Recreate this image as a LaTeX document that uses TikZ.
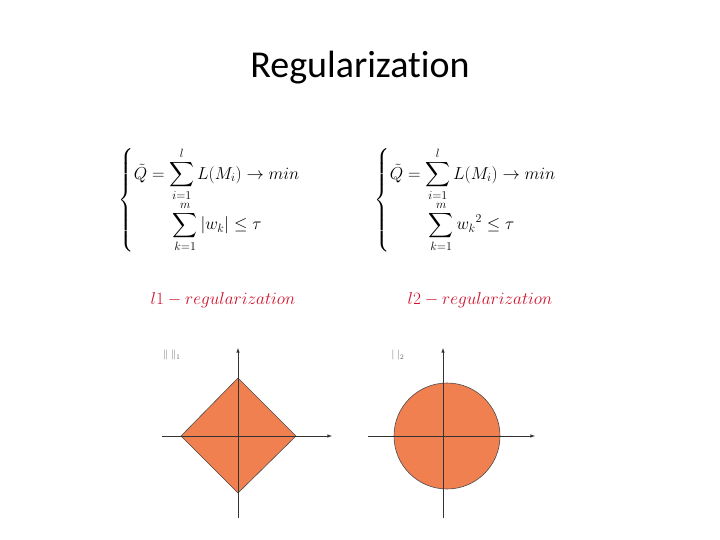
\documentclass[tikz,border=0pt]{standalone}
\usepackage{amsmath}
\usepackage{fontspec}
\newfontfamily\titlefont[Ligatures={NoCommon,NoRare}]{Carlito}
\definecolor{fillor}{HTML}{F0804F}
\definecolor{redlab}{HTML}{D0102A}
\tikzset{
  axis/.style={-latex, line width=0.6pt, black!80},
  formula/.style={font=\fontsize{17}{20}\selectfont, anchor=west},
  lab/.style={font=\fontsize{17}{20}\selectfont, text=redlab},
  normlab/.style={font=\fontsize{10}{12}\selectfont, text=black!60}
}
\begin{document}
\begin{tikzpicture}[x=1pt,y=-1pt]
\useasboundingbox[fill=white] (0,0) rectangle (720,540);
\node[font=\titlefont\fontsize{38}{42}\selectfont] (title) at (360,68) {Regularization};
\node[formula] (f1) at (115,200) {$\left\{\begin{array}{@{}l}
\tilde Q = \displaystyle\sum_{i=1}^{l} L(M_i) \to min\\[8pt]
\qquad\;\displaystyle\sum_{k=1}^{m} |w_k| \le \tau
\end{array}\right.$};
\node[formula] (f2) at (371,200) {$\left\{\begin{array}{@{}l}
\tilde Q = \displaystyle\sum_{i=1}^{l} L(M_i) \to min\\[8pt]
\qquad\;\displaystyle\sum_{k=1}^{m} {w_k}^2 \le \tau
\end{array}\right.$};
\node[lab] (l1) at (223,300) {$l1 - regularization$};
\node[lab] (l2) at (480,300) {$l2 - regularization$};
\node[normlab] (n1) at (172,355) {$\|\;\|_1$};
\node[normlab] (n2) at (398,355) {$|\;|_2$};
% left
\draw[fill=fillor, draw=black!70, line width=0.6pt] (238,378) -- (296,436) -- (238,493) -- (181,436) -- cycle;
\coordinate (a1) at (238,518); \coordinate (a2) at (238,348);
\coordinate (b1) at (162,436); \coordinate (b2) at (332,436);
\draw[axis] (a1) -- (a2);
\draw[axis] (b1) -- (b2);
% right
\draw[fill=fillor, draw=black!70, line width=0.6pt] (447,436) circle (53);
\coordinate (c1) at (443,518); \coordinate (c2) at (443,348);
\coordinate (d1) at (368,436); \coordinate (d2) at (535,436);
\draw[axis] (c1) -- (c2);
\draw[axis] (d1) -- (d2);
\end{tikzpicture}
\end{document}
